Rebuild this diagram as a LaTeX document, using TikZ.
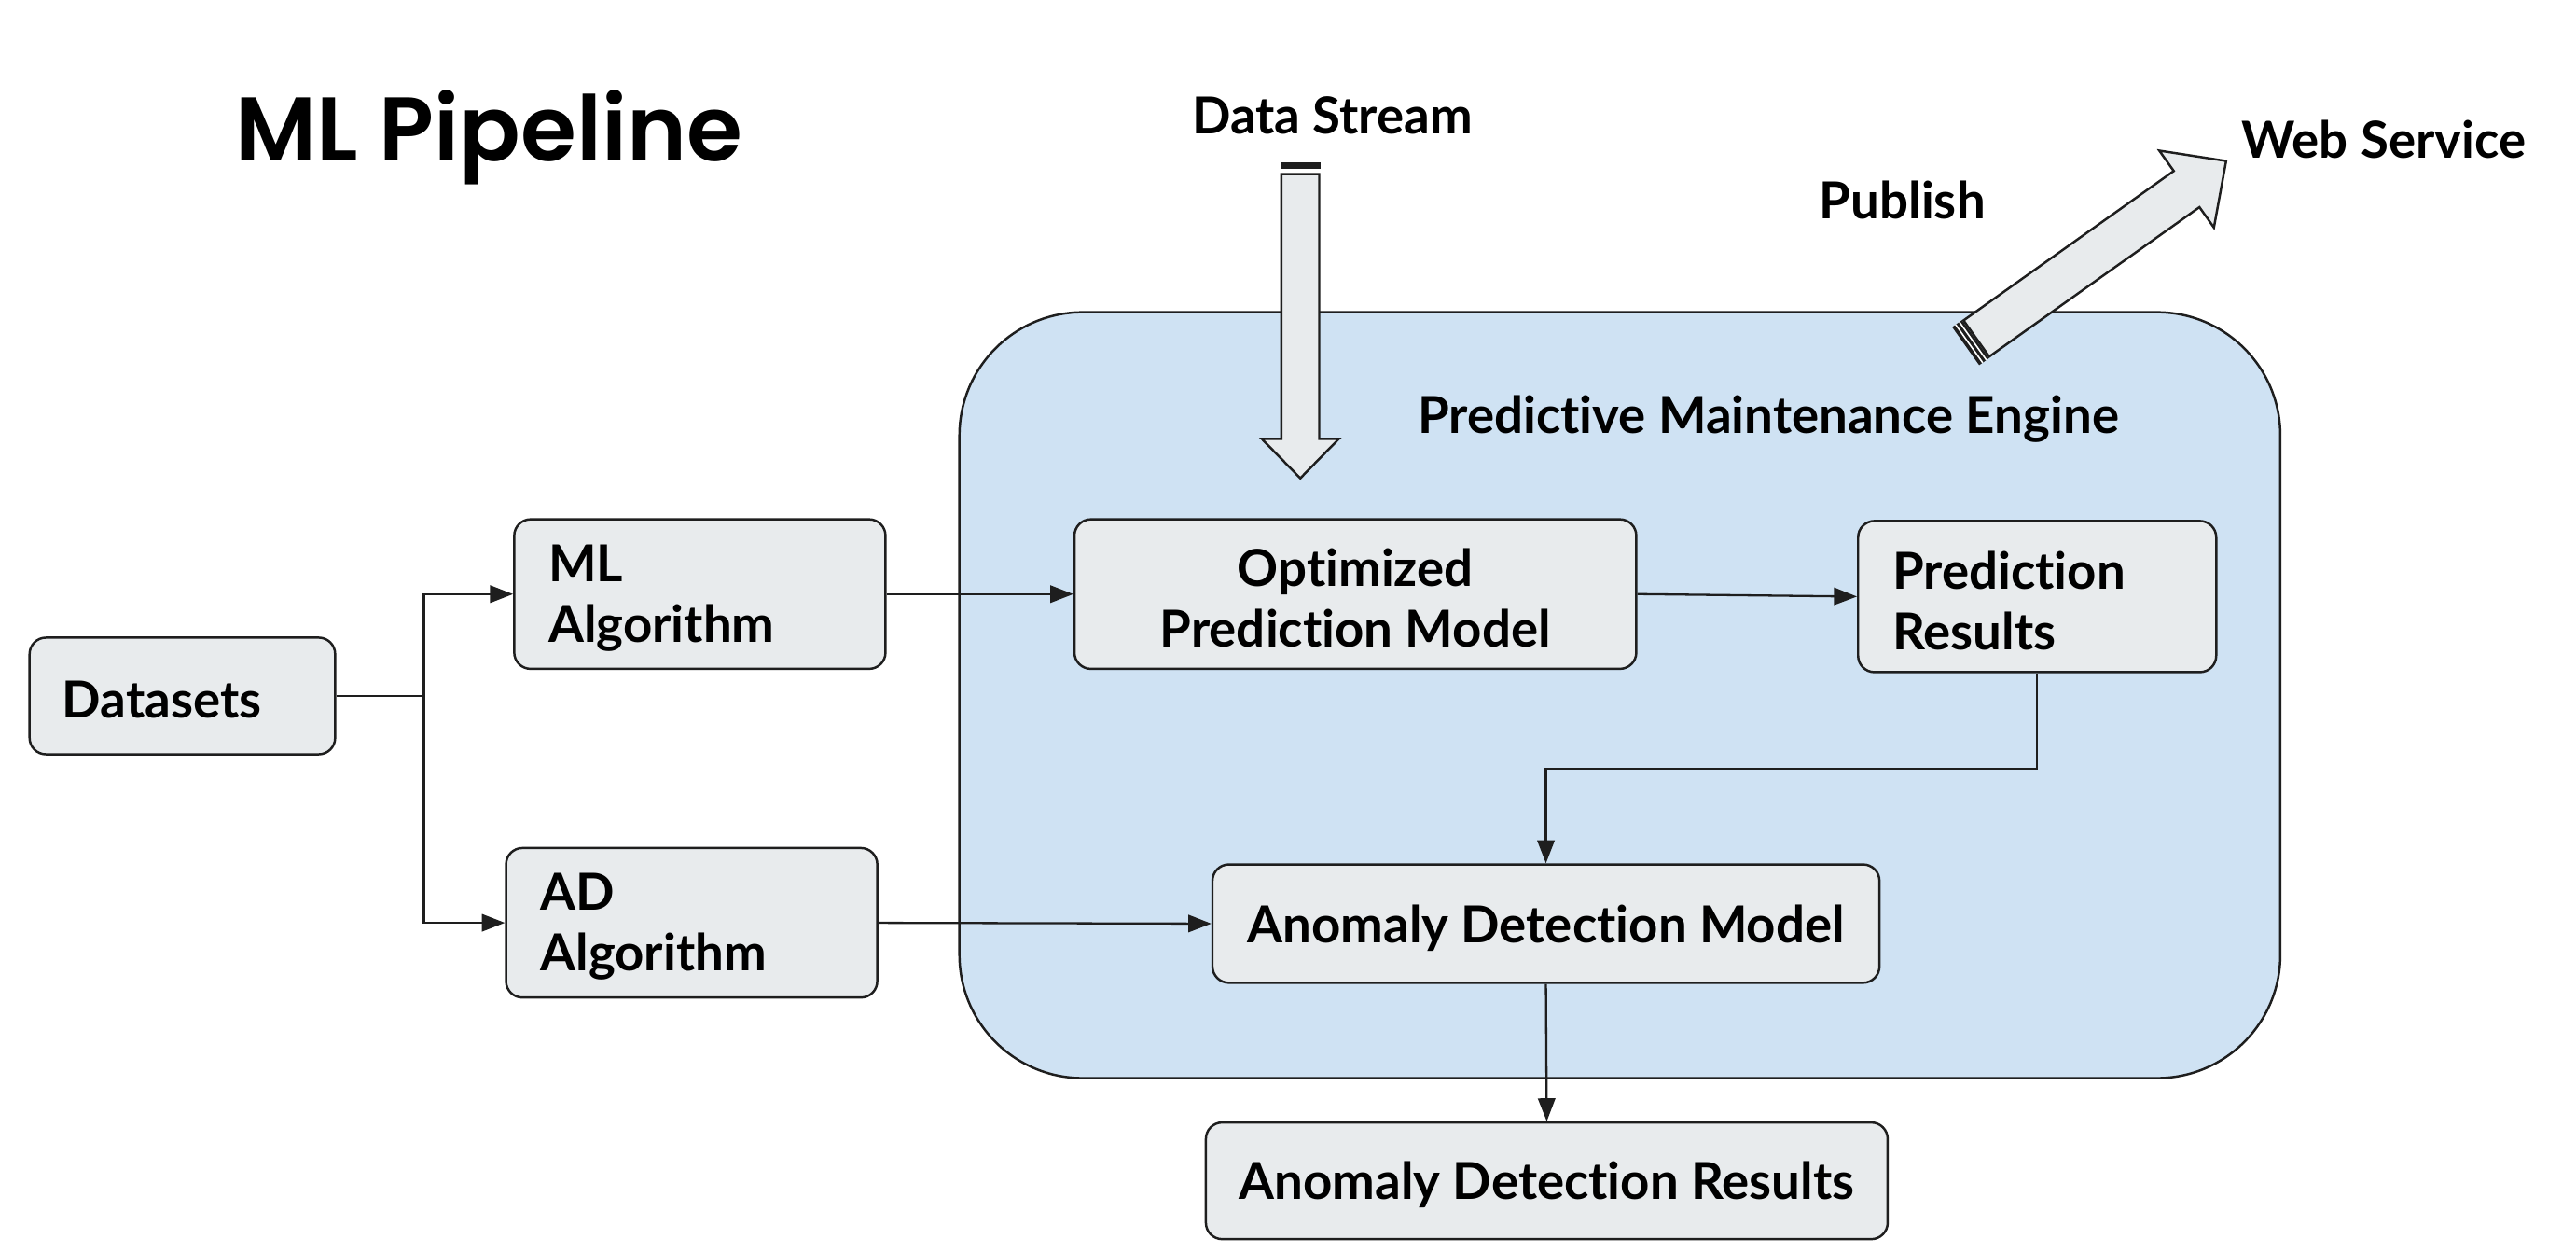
\documentclass[tikz,border=0pt]{standalone}
\usepackage{fontspec}
\setmainfont{Lato}[Ligatures=NoCommon]
\newfontfamily\titlefont{Poppins}[UprightFont=* SemiBold, BoldFont=* SemiBold]
\usetikzlibrary{arrows.meta}
\definecolor{boxfill}{HTML}{E8EBED}
\definecolor{enginefill}{HTML}{CFE2F3}
\definecolor{ink}{HTML}{1E1E1E}
\begin{document}
\begin{tikzpicture}[x=1pt,y=-1pt,
  box/.style={draw=ink, fill=boxfill, line width=1.4pt, rounded corners=10pt, inner sep=0pt},
  btxt/.style={inner sep=0pt, yshift=-2.5pt, font=\fontsize{31}{37}\selectfont\bfseries},
  conn/.style={draw=ink, line width=1.3pt, -{Triangle[length=14pt,width=10.5pt]}},
  lbl/.style={font=\fontsize{31}{37}\selectfont\bfseries, inner sep=0pt},
  fat/.style={draw=ink, fill=boxfill, line width=1.4pt, line join=miter}]
\useasboundingbox (0,0) rectangle (1568,762);
\fill[white] (0,0) rectangle (1568,762);

% engine container
\node[draw=ink, fill=enginefill, line width=1.4pt, rounded corners=75pt, minimum width=804pt, minimum height=466pt, inner sep=0pt] (eng) at (986,423) {};
\node[lbl] (engl) at (1076.5,255) {Predictive Maintenance Engine};

% title and labels
\node[anchor=base west, inner sep=0pt, font=\titlefont\fontsize{55}{60}\selectfont] (title) at (143,98) {ML Pipeline};
\node[lbl] (dsl) at (811,70) {Data Stream};
\node[lbl] (pub) at (1158,122) {Publish};
\node[lbl] (web) at (1451,85) {Web Service};

% boxes
\node[box, minimum width=186pt, minimum height=71pt] (ds) at (111,423.5) {};
\node[box, minimum width=226pt, minimum height=91pt] (mla) at (426,361.5) {};
\node[box, minimum width=226pt, minimum height=91pt] (ada) at (421,561.5) {};
\node[box, minimum width=342pt, minimum height=91pt] (opt) at (825,361.5) {};
\node[box, minimum width=218pt, minimum height=92pt] (pr) at (1240,363) {};
\node[box, minimum width=406pt, minimum height=72pt] (adm) at (941,562) {};
\node[box, minimum width=415pt, minimum height=71pt] (adr) at (941.5,718.5) {};

% box texts
\node[btxt, text width=146pt, align=left] (dst) at (ds.center) {Datasets};
\node[btxt, text width=184pt, align=left] (mlat) at (mla.center) {ML\\Algorithm};
\node[btxt, text width=184pt, align=left] (adat) at (ada.center) {AD\\Algorithm};
\node[btxt, align=center] (optt) at (opt.center) {Optimized\\Prediction Model};
\node[btxt, text width=176pt, align=left] (prt) at (pr.center) {Prediction\\Results};
\node[btxt, align=center] (admt) at (adm.center) {Anomaly Detection Model};
\node[btxt, align=center] (adrt) at (adr.center) {Anomaly Detection Results};

% data stream fat arrow
\draw[fat] (780,106) -- (780,267) -- (768,267) -- (791.5,291) -- (815,267) -- (803,267) -- (803,106) -- cycle;
\fill[ink] (779.3,99) rectangle (803.7,103);

% publish fat arrow
\begin{scope}[shift={(1203,206)}, rotate=35.4]
  \draw[fat] (0,-13.5) -- (157,-13.5) -- (157,-28.7) -- (186.5,0) -- (157,28.7) -- (157,13.5) -- (0,13.5) -- cycle;
  \fill[ink] (-8,-14.2) rectangle (-0.7,14.2);
  \draw[white, line width=0.9pt] (-5.4,-14.2) -- (-5.4,14.2);
  \draw[white, line width=0.9pt] (-2.6,-14.2) -- (-2.6,14.2);
\end{scope}

% connectors
\coordinate (j) at (258,423.5);
\draw[conn] (ds.east) -- (j) |- (mla.west);
\draw[conn] (j) |- (ada.west);
\draw[conn] (mla.east) -- (opt.west);
\draw[conn] (opt.east) -- (pr.west);
\draw[conn] (pr.south) -- ++(0,58) -| (adm.north);
\draw[conn] (ada.east) -- (adm.west);
\draw[conn] (adm.south) -- (adr.north);
\end{tikzpicture}
\end{document}
